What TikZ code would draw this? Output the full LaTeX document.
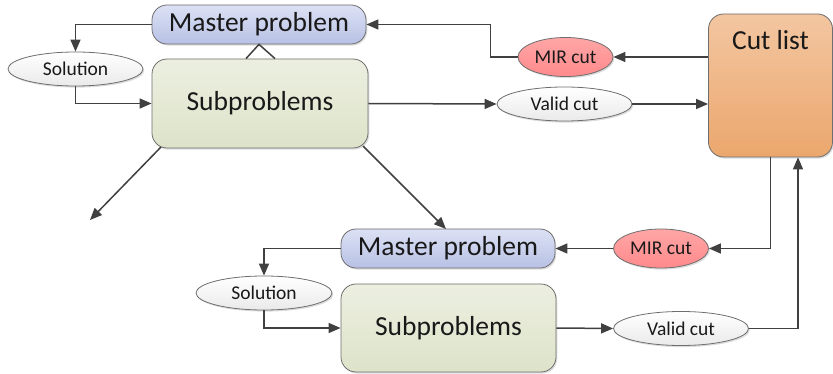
\documentclass[tikz,border=0pt]{standalone}
\usepackage{fontspec}
\setmainfont{Carlito}
\usetikzlibrary{arrows.meta,shapes.geometric,shadows}
\definecolor{wire}{HTML}{404040}
\definecolor{rim}{HTML}{6E6E6E}
\definecolor{masterTop}{HTML}{DCE1F4}
\definecolor{masterBot}{HTML}{B8C1E5}
\definecolor{subTop}{HTML}{ECEFE0}
\definecolor{subBot}{HTML}{DDE3C9}
\definecolor{cutTop}{HTML}{F3C6A1}
\definecolor{cutBot}{HTML}{EBA76D}
\definecolor{mirTop}{HTML}{FFA6A6}
\definecolor{mirBot}{HTML}{FF8A8C}
\definecolor{ovTop}{HTML}{FFFFFF}
\definecolor{ovBot}{HTML}{EAEAEA}
\begin{document}
\begin{tikzpicture}[x=1pt,y=-1pt,
  shade/.style={drop shadow={shadow xshift=1.3pt,shadow yshift=-1.6pt,opacity=0.28}},
  outline/.style={draw=rim,line width=0.8pt,inner sep=0pt,text=black!90},
  masterbox/.style={outline,shade,rectangle,rounded corners=15pt,
    minimum width=214pt,minimum height=39pt,top color=masterTop,bottom color=masterBot,
    font=\fontsize{27.5}{30}\selectfont},
  subbox/.style={outline,shade,rectangle,rounded corners=15pt,
    minimum width=216pt,minimum height=89pt,top color=subTop,bottom color=subBot,
    font=\fontsize{27.5}{30}\selectfont},
  oval/.style={outline,shade,ellipse,top color=ovTop,bottom color=ovBot,
    font=\fontsize{19.5}{22}\selectfont},
  mircut/.style={oval,top color=mirTop,bottom color=mirBot,minimum width=95pt,minimum height=39pt},
  validcut/.style={oval,minimum width=135pt,minimum height=34pt},
  solnode/.style={oval,minimum width=135pt,minimum height=34pt},
  link/.style={draw=wire,line width=1.5pt},
  flow/.style={link,-{Triangle[length=12pt,width=10pt]}}
]
\useasboundingbox (0,0) rectangle (833,374);

% cut pool on the right
\node[outline,shade,rectangle,rounded corners=15pt,minimum width=124pt,minimum height=143pt,
  top color=cutTop,bottom color=cutBot] (cut) at (770.5,85.5) {};
\node[font=\fontsize{27.5}{30}\selectfont,text=black!90] (cuttext) at (770.5,40) {Cut list};

% upper iteration
\node[masterbox] (m1) at (259,24.5) {Master problem};
\node[subbox] (s1) at (260,103.5) {Subproblems};
\node[solnode] (sol1) at (75.5,69) {Solution};
\node[mircut] (mir1) at (565.5,57) {MIR cut};
\node[validcut] (val1) at (564.5,104) {Valid cut};

% lower iteration
\node[masterbox] (m2) at (448,248.5) {Master problem};
\node[subbox,minimum width=215pt,minimum height=88pt] (s2) at (448.5,328) {Subproblems};
\node[solnode,minimum width=136pt] (sol2) at (264,293) {Solution};
\node[mircut] (mir2) at (661,248.5) {MIR cut};
\node[validcut] (val2) at (681,328.5) {Valid cut};

% free ends of the branching arrows
\coordinate (lefttip) at (90,220);
\coordinate (righttip) at (446,229);

% upper loop
\draw[flow] (m1.west) -| (sol1.north);
\draw[flow] (sol1.south) |- (s1.west);
\draw[flow] (s1.east) -- (val1.west);
\draw[flow] (val1.east) -- (cut.west |- val1.east);
\draw[flow] (cut.west |- mir1.east) -- (mir1.east);
\draw[flow] (mir1.west) -- ++(-27,0) |- (m1.east);
\draw[link] ([xshift=-14pt]s1.north) -- (m1.south) -- ([xshift=15pt]s1.north);

% branching from the upper subproblems
\draw[flow] (161,147) -- (lefttip);
\draw[flow] (363,146) -- (righttip);

% lower loop
\draw[flow] (m2.west) -| (sol2.north);
\draw[flow] (sol2.south) |- (s2.west);
\draw[flow] (s2.east) -- (val2.west);
\draw[flow] (val2.east) -| ([xshift=27.5pt]cut.south);
\draw[flow] (cut.south) |- (mir2.east);
\draw[flow] (mir2.west) -- (m2.east);
\end{tikzpicture}
\end{document}
